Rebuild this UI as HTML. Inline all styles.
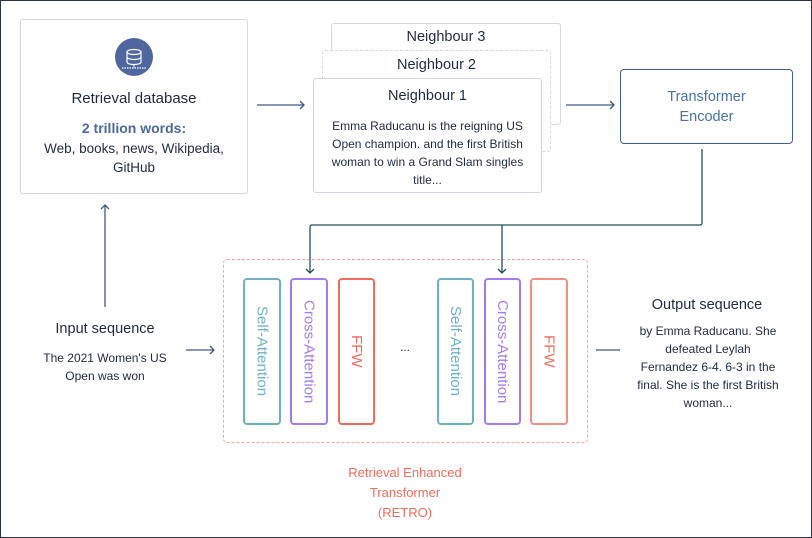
<!DOCTYPE html>
<html><head><style>
body{margin:0;width:812px;height:538px;overflow:hidden;background:#fff;font-family:"Liberation Sans",sans-serif}
.f{position:absolute;left:0;top:0;width:810px;height:536px;border:1px solid #2a3244}
.a{position:absolute;box-sizing:border-box}
.t{position:absolute;text-align:center;color:#1f2a44}
.v{writing-mode:vertical-rl;display:flex;align-items:center;justify-content:center;font-size:15px;border-radius:4px;border:2px solid}
</style></head><body>
<div class="f"></div>
<div class="a" style="left:20px;top:19px;width:228px;height:175px;border:1px solid #d5d7e0;border-radius:3px"></div>
<div class="a" style="left:115px;top:38px;width:38px;height:38px;border-radius:50%;background:#4f67a0"></div>
<svg class="a" style="left:115px;top:38px" width="38" height="38"><g fill="none" stroke="#fff" stroke-width="1.2"><ellipse cx="19" cy="14" rx="7" ry="2.5"/><path d="M12 14v10c0 1.5 3 2.5 7 2.5s7-1 7-2.5V14M12 19c0 1.5 3 2.5 7 2.5s7-1 7-2.5"/><path d="M19 27v3M7 30h24" stroke-dasharray="1.5 1"/></g></svg>
<div class="t" style="left:20px;top:90px;width:228px;font-size:15px">Retrieval database</div>
<div class="t" style="left:20px;top:120px;width:228px;font-size:14px;font-weight:bold;color:#4a6aa0">2 trillion words:</div>
<div class="t" style="left:20px;top:139px;width:228px;font-size:13.5px;line-height:19px">Web, books, news, Wikipedia,<br>GitHub</div>

<div class="a" style="left:331px;top:23px;width:230px;height:102px;border:1px solid #d5d7e0;border-radius:3px;background:#fff"></div>
<div class="t" style="left:331px;top:29px;width:230px;font-size:14.5px">Neighbour 3</div>
<div class="a" style="left:322px;top:50px;width:229px;height:102px;border:1px dashed #d5d7e0;border-radius:3px;background:#fff"></div>
<div class="t" style="left:322px;top:57px;width:229px;font-size:14.5px">Neighbour 2</div>
<div class="a" style="left:313px;top:78px;width:229px;height:115px;border:1px solid #d5d7e0;border-radius:3px;background:#fff"></div>
<div class="t" style="left:313px;top:88px;width:229px;font-size:14.5px">Neighbour 1</div>
<div class="t" style="left:318px;top:117px;width:219px;font-size:12px;line-height:18px">Emma Raducanu is the reigning US Open champion. and the first British woman to win a Grand Slam singles title...</div>

<div class="a" style="left:620px;top:69px;width:173px;height:75px;border:1.5px solid #3f5f94;border-radius:4px"></div>
<div class="t" style="left:620px;top:87px;width:173px;font-size:14.5px;line-height:20px;color:#4a72a4">Transformer<br>Encoder</div>

<div class="a" style="left:223px;top:259px;width:365px;height:184px;border:1.5px dashed #f4a89e;border-radius:4px"></div>
<div class="a v" style="left:243px;top:278px;width:38px;height:147px;border-color:#6fb3c2;color:#6fb3c2">Self-Attention</div>
<div class="a v" style="left:290px;top:278px;width:38px;height:147px;border-color:#a77bf0;color:#a77bf0">Cross-Attention</div>
<div class="a v" style="left:338px;top:278px;width:37px;height:147px;border-color:#f26b5b;color:#f26b5b">FFW</div>
<div class="t" style="left:395px;top:340px;width:20px;font-size:12px">...</div>
<div class="a v" style="left:437px;top:278px;width:37px;height:147px;border-color:#6fb3c2;color:#6fb3c2">Self-Attention</div>
<div class="a v" style="left:484px;top:278px;width:37px;height:147px;border-color:#a77bf0;color:#a77bf0">Cross-Attention</div>
<div class="a v" style="left:530px;top:278px;width:38px;height:147px;border-color:#f4907f;color:#f26b5b">FFW</div>

<div class="t" style="left:20px;top:321px;width:170px;font-size:14.5px">Input sequence</div>
<div class="t" style="left:35px;top:349px;width:140px;font-size:12px;line-height:18px">The 2021 Women's US Open was won</div>
<div class="t" style="left:622px;top:297px;width:170px;font-size:14.5px">Output sequence</div>
<div class="t" style="left:636px;top:322px;width:144px;font-size:12px;line-height:18px">by Emma Raducanu. She defeated Leylah Fernandez 6-4. 6-3 in the final. She is the first British woman...</div>
<div class="t" style="left:320px;top:463px;width:170px;font-size:13px;line-height:20px;color:#f26b5b">Retrieval Enhanced Transformer<br>(RETRO)</div>

<svg class="a" style="left:0;top:0" width="812" height="538"><g fill="none" stroke="#3f5a8a" stroke-width="1.3">
<path d="M257 105h47M300 101l4 4-4 4"/>
<path d="M566 105h48M610 101l4 4-4 4"/>
<path d="M105 307V205M101 209l4-4 4 4"/>
<path d="M186 350h28M210 346l4 4-4 4"/>
<path d="M596 350h24"/>
<path d="M702 149v74q0 2-2 2H312q-2 0-2 2v46M306 269l4 4 4-4" stroke="#22505e"/>
<path d="M502 225v48M498 269l4 4 4-4" stroke="#22505e"/>
</g></svg>
</body></html>
